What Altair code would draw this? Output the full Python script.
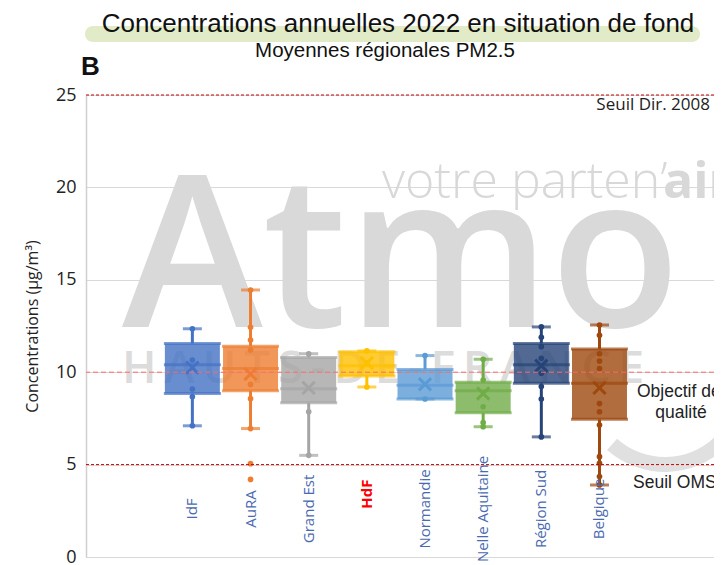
import altair as alt
import pandas as pd

# ---------------- data ----------------
regions = ["IdF", "AuRA", "Grand Est", "HdF", "Normandie", "Nelle Aquitaine", "Région Sud", "Belgique"]
colors = ["#4472C4", "#ED7D31", "#A5A5A5", "#FFC000", "#5B9BD5", "#70AD47", "#264478", "#9E480E"]

whisker_low = [7.1, 6.95, 5.5, 9.2, 8.55, 7.05, 6.5, 3.9]
q1 = [8.85, 9.0, 8.35, 9.8, 8.55, 7.8, 9.4, 7.45]
median = [10.4, 10.2, 9.1, 10.35, 9.3, 9.0, 10.4, 9.4]
q3 = [11.55, 11.4, 10.8, 11.1, 10.15, 9.45, 11.55, 11.25]
whisker_high = [12.35, 14.45, 11.0, 11.15, 10.9, 10.7, 12.45, 12.55]
mean = [10.25, 9.9, 9.15, 10.5, 9.35, 8.85, 10.35, 9.15]

pts_idf = [12.35, 10.66, 9.09, 8.67, 7.1]
pts_aura = [14.45, 12.43, 11.74, 11.2, 9.34, 8.57, 6.95, 5.05, 4.2]
pts_grandest = [11.0, 7.86, 5.5]
pts_hdf = [11.15, 10.5, 9.2]
pts_normandie = [10.9, 8.55]
pts_aquitaine = [10.7, 9.58, 8.13, 7.27, 7.05]
pts_sud = [12.45, 11.89, 11.38, 10.75, 9.94, 9.22, 8.55, 6.5]
pts_belgique = [12.55, 12.0, 11.0, 10.6, 10.2, 8.3, 7.86, 7.14, 5.43, 5.07, 4.35, 3.9]

thresholds = [25, 10, 5]
y_ticks = [0, 5, 10, 15, 20, 25]

title_text = "Concentrations annuelles 2022 en situation de fond"
subtitle_text = "Moyennes régionales PM2.5"

# ---------------- tables ----------------
idx = list(range(len(regions)))
box_df = pd.DataFrame({
    "region": regions, "idx": idx, "low": whisker_low, "q1": q1, "median": median,
    "q3": q3, "high": whisker_high, "mean": mean,
})
all_pts = [pts_idf, pts_aura, pts_grandest, pts_hdf, pts_normandie,
           pts_aquitaine, pts_sud, pts_belgique]
pts_df = pd.DataFrame(
    [{"region": r, "idx": i, "v": v} for i, (r, vals) in enumerate(zip(regions, all_pts)) for v in vals]
)
lab_df = pd.DataFrame({"region": regions, "idx": idx})

W, H = 628, 462

xscale = alt.Scale(domain=[-1.743, 8.883], nice=False, zero=False)
yscale = alt.Scale(domain=[0, 25], nice=False, zero=True)
cscale = alt.Scale(domain=regions, range=colors)

X = alt.X("idx:Q", scale=xscale, axis=None)
C = alt.Color("region:N", scale=cscale, legend=None)

base = alt.Chart(box_df)

# y axis carrier
axis_layer = alt.Chart(pd.DataFrame({"v": y_ticks})).mark_point(opacity=0).encode(
    y=alt.Y("v:Q", scale=yscale, axis=alt.Axis(
        values=y_ticks, title="Concentrations (µg/m³)", grid=True,
        gridColor="#d9d9d9", gridWidth=1, domain=True, domainColor="#d0d0d0",
        domainWidth=1.5, ticks=False, labelFontSize=18, labelFont="Open Sans",
        labelColor="#222222", labelPadding=10, titleFont="Open Sans",
        titleFontSize=16, titleFontWeight="normal", titleColor="#222222",
        titlePadding=15)),
)

# watermark (logo in the background)
def wm(text, x, y, size, weight, color, font="Open Sans"):
    return alt.Chart(pd.DataFrame({"t": [text]})).mark_text(
        align="left", baseline="alphabetic", fontSize=size, fontWeight=weight,
        font=font, color=color,
    ).encode(text="t:N", x=alt.value(x), y=alt.value(y))

wm_atmo = wm("Atmo", 36, 232, 213, 600, "#d9d9d9")
wm_votre = wm("votre parten’", 296, 103, 50, 300, "#d8d8d8")
wm_air = wm("air", 577, 103, 50, 700, "#d8d8d8")
wm_hauts = wm("H\u2006A\u2006U\u2006T\u2006S\u2006-\u2006D\u2006E\u2006-\u2006F\u2006R\u2006A\u2006N\u2006C\u2006E",
              36, 288, 46, 600, "#dcdcdc")
wm_swoosh = alt.Chart(pd.DataFrame({"t": ["swoosh"]})).mark_arc(
    theta=2.37, theta2=3.87, radius=87, radius2=72, color="#e0e0e0").encode(
    x=alt.value(579), y=alt.value(290))

# box elements
stem_low = base.mark_rule(strokeWidth=3).encode(x=X, y=alt.Y("low:Q", scale=yscale), y2="q1:Q", color=C)
stem_high = base.mark_rule(strokeWidth=3).encode(x=X, y=alt.Y("q3:Q", scale=yscale), y2="high:Q", color=C)
cap_low = base.mark_tick(size=19, thickness=3, orient="horizontal").encode(x=X, y=alt.Y("low:Q", scale=yscale), color=C)
cap_high = base.mark_tick(size=19, thickness=3, orient="horizontal").encode(x=X, y=alt.Y("high:Q", scale=yscale), color=C)
box = base.mark_bar(size=55, opacity=0.8).encode(x=X, y=alt.Y("q1:Q", scale=yscale), y2="q3:Q", color=C)
tick_q1 = base.mark_tick(size=57, thickness=3, orient="horizontal").encode(x=X, y=alt.Y("q1:Q", scale=yscale), color=C)
tick_q3 = base.mark_tick(size=57, thickness=3, orient="horizontal").encode(x=X, y=alt.Y("q3:Q", scale=yscale), color=C)
tick_med = base.mark_tick(size=57, thickness=3, orient="horizontal").encode(x=X, y=alt.Y("median:Q", scale=yscale), color=C)
mean_x = base.mark_point(shape="M-1,-1L1,1M1,-1L-1,1", size=150, strokeWidth=3, filled=False, opacity=1).encode(
    x=X, y=alt.Y("mean:Q", scale=yscale), color=C)
dots = alt.Chart(pts_df).mark_circle(size=32, opacity=1).encode(
    x=X, y=alt.Y("v:Q", scale=yscale), color=C)

# thresholds
thr_df = pd.DataFrame({"v": thresholds})
rule_dark = alt.Chart(thr_df).transform_filter("datum.v != 10").mark_rule(
    color="#C00000", strokeWidth=1, strokeDash=[3, 2]).encode(y=alt.Y("v:Q", scale=yscale))
rule_light = alt.Chart(thr_df).transform_filter("datum.v == 10").mark_rule(
    color="#FF6B6B", strokeWidth=1, strokeDash=[5, 3]).encode(y=alt.Y("v:Q", scale=yscale))

def note(text, x, yv, dy, align, font="Liberation Sans", size=17.5):
    return alt.Chart(pd.DataFrame({"t": [text]})).mark_text(
        align=align, baseline="alphabetic", dy=dy, fontSize=size, font=font, color="#222222",
    ).encode(text="t:N", x=alt.value(x), y=alt.YDatum(yv, scale=yscale))

n1 = note("Seuil Dir. 2008", 624, thresholds[0], 15, "right", font="Open Sans", size=17)
n2 = note("Objectif de", 551, thresholds[1], 25, "left")
n3 = note("qualité", 595, thresholds[1], 46, "center")
n4 = note("Seuil OMS", 547, thresholds[2], 23, "left")

# category labels (inside plot)
labels = alt.Chart(lab_df).transform_filter("datum.region != 'HdF'").mark_text(
    angle=270, align="center", baseline="middle", fontSize=15, font="Open Sans", color="#4A6AB0",
).encode(x=X, y=alt.YDatum(2.6, scale=yscale), text="region:N")
label_hdf = alt.Chart(lab_df).transform_filter("datum.region == 'HdF'").mark_text(
    angle=270, align="center", baseline="middle", fontSize=15, font="Open Sans",
    fontWeight="bold", color="#FF0000",
).encode(x=X, y=alt.YDatum(3.4, scale=yscale), text="region:N")

# titles
highlight = alt.Chart(pd.DataFrame({"t": [title_text]})).mark_rect(
    color="#E2EBC8", cornerRadius=8).encode(
    x=alt.value(-1), x2=alt.value(614), y=alt.value(-69), y2=alt.value(-53))
title = alt.Chart(pd.DataFrame({"t": [title_text]})).mark_text(
    align="center", baseline="alphabetic", fontSize=26, font="Liberation Sans",
    color="#111111").encode(text="t:N", x=alt.value(312), y=alt.value(-63))
subtitle = alt.Chart(pd.DataFrame({"t": [subtitle_text]})).mark_text(
    align="center", baseline="alphabetic", fontSize=20.5, font="Liberation Sans",
    color="#111111").encode(text="t:N", x=alt.value(299), y=alt.value(-38))
letter_b = alt.Chart(pd.DataFrame({"t": ["B"]})).mark_text(
    align="left", baseline="alphabetic", fontSize=26, font="Liberation Sans", fontWeight="bold",
    color="#111111").encode(text="t:N", x=alt.value(-5), y=alt.value(-20))

chart = alt.layer(
    axis_layer, wm_atmo, wm_votre, wm_air, wm_hauts, wm_swoosh,
    stem_low, stem_high, cap_low, cap_high, box, tick_q1, tick_q3, tick_med,
    dots, mean_x, rule_dark, rule_light, n1, n2, n3, n4, labels, label_hdf,
    highlight, title, subtitle, letter_b,
).properties(
    width=W, height=H,
    autosize=alt.AutoSizeParams(type="none"),
    padding={"left": 78, "top": 87, "right": 0, "bottom": 8},
).configure_view(stroke=None).configure(background="white")

chart.save("out.html", embed_options={"renderer": "svg", "actions": False})
